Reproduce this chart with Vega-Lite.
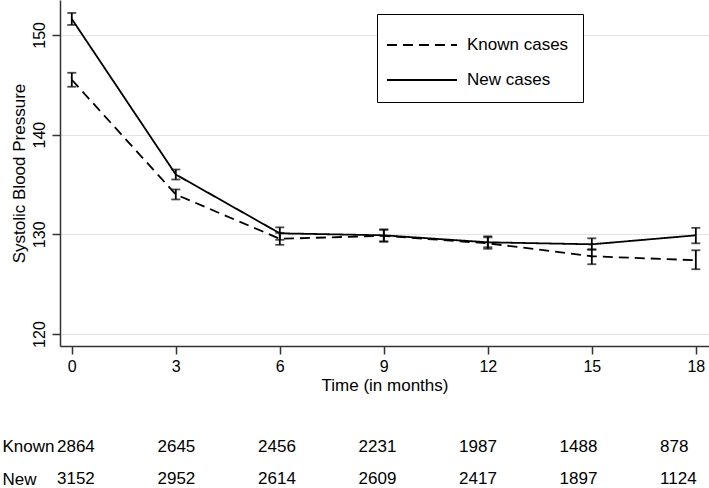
{
  "$schema": "https://vega.github.io/schema/vega-lite/v6.json",
  "padding": {"left": 2, "top": 0, "right": 0, "bottom": 0},
  "background": "white",
  "config": {"font": "Liberation Sans", "view": {"stroke": null}, "concat": {"spacing": 44}},
  "datasets": {
    "bp": [
      {"month": 0, "group": "Known cases", "sbp": 145.5, "lo": 144.8, "hi": 146.2},
      {"month": 3, "group": "Known cases", "sbp": 134.0, "lo": 133.5, "hi": 134.5},
      {"month": 6, "group": "Known cases", "sbp": 129.55, "lo": 128.95, "hi": 130.15},
      {"month": 9, "group": "Known cases", "sbp": 129.85, "lo": 129.25, "hi": 130.45},
      {"month": 12, "group": "Known cases", "sbp": 129.1, "lo": 128.55, "hi": 129.7},
      {"month": 15, "group": "Known cases", "sbp": 127.8, "lo": 127.0, "hi": 128.5},
      {"month": 18, "group": "Known cases", "sbp": 127.4, "lo": 126.5, "hi": 128.4},
      {"month": 0, "group": "New cases", "sbp": 151.6, "lo": 151.0, "hi": 152.2},
      {"month": 3, "group": "New cases", "sbp": 136.0, "lo": 135.5, "hi": 136.5},
      {"month": 6, "group": "New cases", "sbp": 130.1, "lo": 129.45, "hi": 130.7},
      {"month": 9, "group": "New cases", "sbp": 129.9, "lo": 129.3, "hi": 130.5},
      {"month": 12, "group": "New cases", "sbp": 129.2, "lo": 128.7, "hi": 129.8},
      {"month": 15, "group": "New cases", "sbp": 129.0, "lo": 128.45, "hi": 129.6},
      {"month": 18, "group": "New cases", "sbp": 129.9, "lo": 129.1, "hi": 130.65}
    ],
    "counts": [
      {"month": 0, "row": "Known", "n": 2864},
      {"month": 3, "row": "Known", "n": 2645},
      {"month": 6, "row": "Known", "n": 2456},
      {"month": 9, "row": "Known", "n": 2231},
      {"month": 12, "row": "Known", "n": 1987},
      {"month": 15, "row": "Known", "n": 1488},
      {"month": 18, "row": "Known", "n": 878},
      {"month": 0, "row": "New", "n": 3152},
      {"month": 3, "row": "New", "n": 2952},
      {"month": 6, "row": "New", "n": 2614},
      {"month": 9, "row": "New", "n": 2609},
      {"month": 12, "row": "New", "n": 2417},
      {"month": 15, "row": "New", "n": 1897},
      {"month": 18, "row": "New", "n": 1124}
    ]
  },
  "resolve": {"scale": {"x": "independent", "y": "independent"}},
  "vconcat": [
    {
      "width": 649,
      "height": 346,
      "data": {"name": "bp"},
      "layer": [
        {
          "mark": {"type": "line", "strokeWidth": 1.8, "color": "black"},
          "encoding": {
            "x": {
              "field": "month", "type": "quantitative", "title": "Time (in months)",
              "scale": {"domain": [-0.34, 18.38], "nice": false, "zero": false},
              "axis": {
                "title": "Time (in months)", "values": [0, 3, 6, 9, 12, 15, 18], "grid": false,
                "domainColor": "#333333", "domainWidth": 1.5, "tickColor": "#333333", "tickWidth": 1.5, "tickSize": 8,
                "labelFontSize": 16, "labelColor": "black", "labelPadding": 4, "labelFlush": false, "labelOverlap": false,
                "titleFontSize": 17, "titleFontWeight": "normal", "titleColor": "black", "titlePadding": 3
              }
            },
            "y": {
              "field": "sbp", "type": "quantitative", "title": "Systolic Blood Pressure",
              "scale": {"domain": [118.8, 153.5], "nice": false, "zero": false},
              "axis": {
                "title": "Systolic Blood Pressure", "values": [120, 130, 140, 150], "grid": true,
                "gridColor": "#e3e3e3", "gridWidth": 1.2,
                "domainColor": "#333333", "domainWidth": 1.5, "tickColor": "#333333", "tickWidth": 1.5, "tickSize": 8,
                "labelAngle": -90, "labelFontSize": 16, "labelColor": "black", "labelPadding": 5, "labelFlush": false,
                "titleFontSize": 17, "titleFontWeight": "normal", "titleColor": "black", "titlePadding": 3
              }
            },
            "strokeDash": {
              "field": "group", "type": "nominal",
              "scale": {"domain": ["Known cases", "New cases"], "range": [[10, 6], [1, 0]]},
              "legend": {
                "orient": "none", "legendX": 317, "legendY": 14, "title": null, "direction": "vertical",
                "strokeColor": "black", "fillColor": "white", "padding": 14, "rowPadding": 10,
                "symbolType": "M-2.19,0H2.19", "symbolSize": 1024, "symbolStrokeWidth": 1.8,
                "symbolStrokeColor": "black", "symbolOffset": 14, "labelOffset": 28,
                "labelFontSize": 17, "labelColor": "black"
              }
            }
          }
        },
        {
          "mark": {"type": "errorbar", "ticks": {"size": 9, "thickness": 1.8}, "thickness": 1.8, "color": "black"},
          "encoding": {
            "x": {"field": "month", "type": "quantitative", "title": "Time (in months)"},
            "y": {"field": "lo", "type": "quantitative", "title": "Systolic Blood Pressure"},
            "y2": {"field": "hi"}
          }
        }
      ]
    },
    {
      "width": 649,
      "height": 46,
      "data": {"name": "counts"},
      "mark": {"type": "text", "fontSize": 17, "color": "black", "baseline": "middle", "align": "left"},
      "encoding": {
        "x": {"field": "month", "type": "quantitative", "scale": {"domain": [0.09, 19.46], "nice": false, "zero": false}, "axis": null},
        "y": {
          "field": "row", "type": "nominal", "sort": ["Known", "New"],
          "scale": {"type": "point", "padding": 0.2},
          "axis": {"title": null, "domain": false, "ticks": false, "tickSize": 0, "labelAlign": "left", "labelPadding": 58, "labelFontSize": 17, "labelColor": "black", "labelBaseline": "middle"}
        },
        "text": {"field": "n", "type": "quantitative", "format": "d"}
      }
    }
  ]
}
